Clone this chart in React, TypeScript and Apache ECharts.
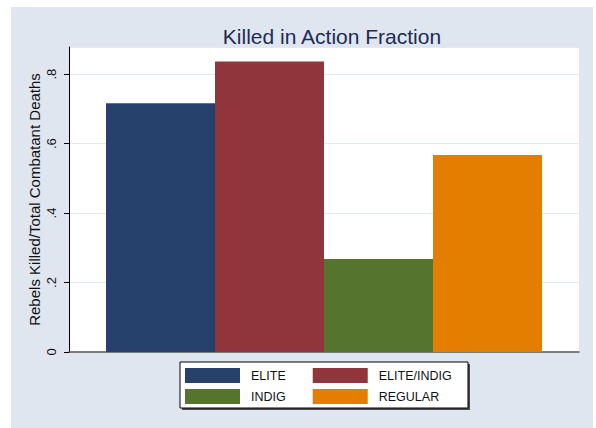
import React, { useEffect, useRef } from "react";
import * as echarts from "echarts";

const categories = ["ELITE", "ELITE/INDIG", "INDIG", "REGULAR"];
const values = [0.716, 0.836, 0.268, 0.567];
const colors = ["#26426c", "#90353b", "#55752f", "#e37e00"];
const yTicks = [0, 0.2, 0.4, 0.6, 0.8];
const legendRow1 = ["ELITE", "ELITE/INDIG"];
const legendRow2 = ["INDIG", "REGULAR"];

const FONT = "'Liberation Sans', Arial, sans-serif";

export default function App() {
  const ref = useRef<HTMLDivElement>(null);
  useEffect(() => {
    if (!ref.current) return;
    const chart = echarts.init(ref.current, undefined, { renderer: "svg" });
    const legendBase = (data: string[], top: number) => ({
      data,
      left: 185,
      top,
      orient: "horizontal",
      itemWidth: 55,
      itemHeight: 15,
      itemGap: 27,
      padding: 0,
      selectedMode: false,
      icon: "rect",
      formatter: (n: string) => `{n|${n}}`,
      textStyle: {
        fontFamily: FONT,
        fontSize: 12.5,
        color: "#111",
        rich: { n: { width: 50, padding: [0, 0, 0, 6], fontFamily: FONT, fontSize: 12.5, color: "#111" } },
      },
    });
    chart.setOption({
      animation: false,
      backgroundColor: "transparent",
      title: {
        text: "Killed in Action Fraction",
        left: 327,
        textAlign: "center",
        top: 21,
        textStyle: { fontFamily: FONT, fontSize: 21, fontWeight: "normal", color: "#1e2b52" },
      },
      graphic: [
        { type: "rect", shape: { x: 182, y: 364, width: 288, height: 46 }, style: { fill: "#4a4a4a" }, z: 0 },
        { type: "rect", shape: { x: 180, y: 362, width: 288, height: 46 }, style: { fill: "#ffffff", stroke: "#000", lineWidth: 1 }, z: 0 },
      ],
      legend: [legendBase(legendRow1, 368), legendBase(legendRow2, 389)],
      grid: { left: 69, top: 47, right: 17, bottom: 76, backgroundColor: "#ffffff", show: true, borderWidth: 0 },
      xAxis: {
        type: "category",
        data: [""],
        axisLine: { show: true, lineStyle: { color: "#555", width: 1.5 } },
        axisTick: { show: false },
        axisLabel: { show: false },
      },
      yAxis: {
        type: "value",
        min: 0,
        max: 0.878,
        interval: 0.2,
        name: "Rebels Killed/Total Combatant Deaths",
        nameLocation: "middle",
        nameGap: 27,
        nameMoveOverlap: false,
        nameTextStyle: { fontFamily: FONT, fontSize: 15, color: "#111" },
        axisLine: { show: true, lineStyle: { color: "#000", width: 1 } },
        axisTick: { show: true, length: 5, lineStyle: { color: "#000" } },
        axisLabel: {
          rotate: 90,
          margin: 11,
          fontFamily: FONT,
          fontSize: 13,
          color: "#111",
          showMaxLabel: false,
          formatter: (v: number) => {
            const match = yTicks.find((t) => Math.abs(t - v) < 1e-6);
            if (match === undefined) return "";
            if (match === 0) return "0";
            return String(match).replace(/^0\./, ".");
          },
        },
        splitLine: { show: true, lineStyle: { color: "#e3e9f2", width: 1 } },
      },
      series: categories.map((name, i) => ({
        name,
        type: "bar",
        data: [values[i]],
        barWidth: 109,
        barGap: "0%",
        itemStyle: { color: colors[i] },
      })),
    });
    return () => chart.dispose();
  }, []);
  return (
    <div style={{ position: "fixed", left: 0, top: 0, width: 596, height: 428, background: "#ffffff" }}>
      <div style={{ position: "absolute", left: 11, top: 7, width: 582, height: 421, background: "#dfe6f0" }} />
      <div ref={ref} style={{ position: "absolute", left: 0, top: 0, width: 596, height: 428 }} />
    </div>
  );
}
